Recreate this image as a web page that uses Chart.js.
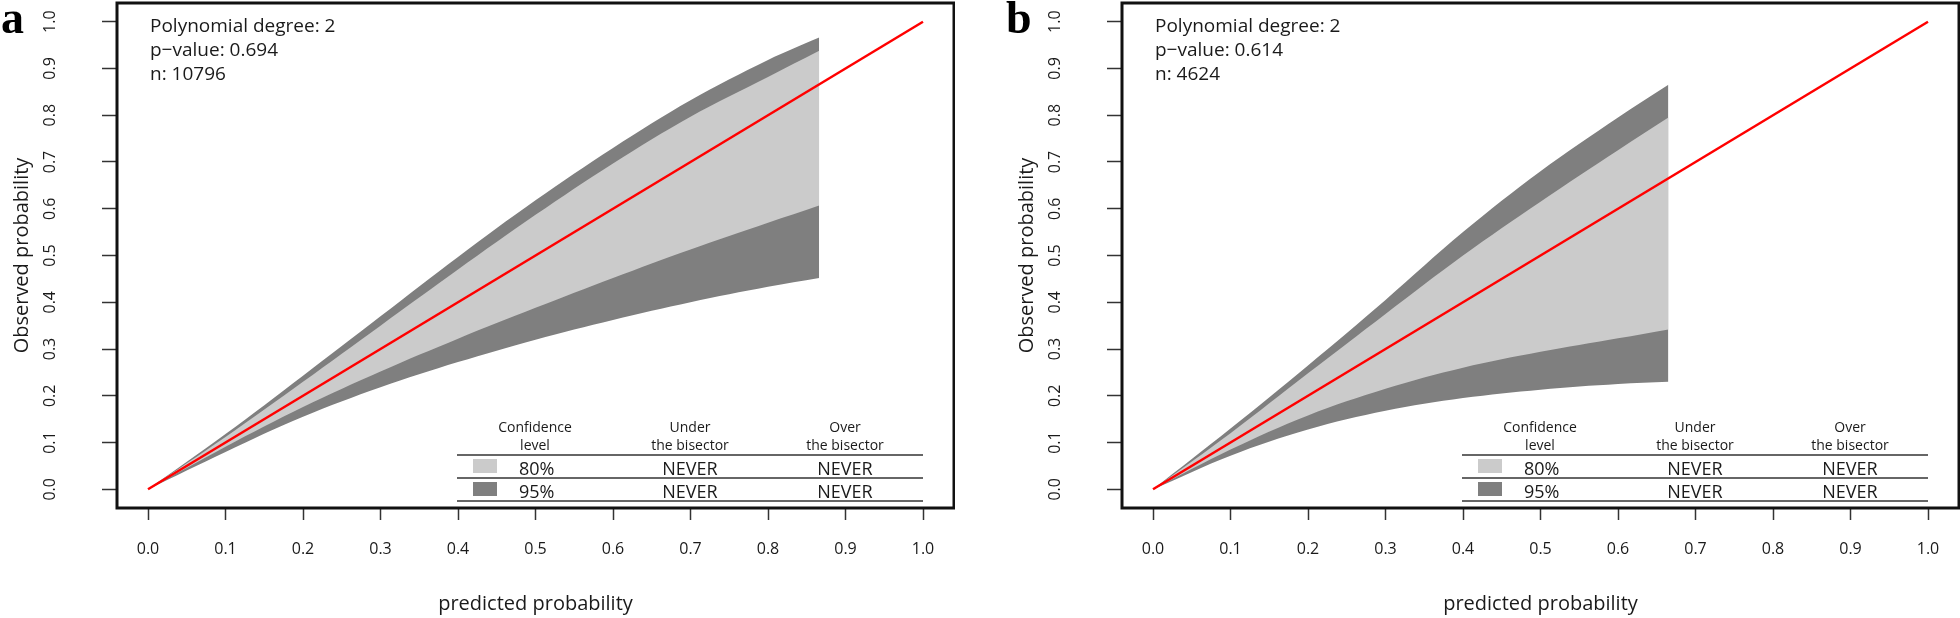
<!DOCTYPE html>
<html>
<head>
<meta charset="utf-8">
<script src="https://cdn.jsdelivr.net/npm/chart.js@4/dist/chart.umd.min.js"></script>
<style>
  body { margin: 0; background: #fff; }
  #wrap { position: relative; width: 1960px; height: 618px; }
  canvas { position: absolute; top: 0; }
</style>
</head>
<body>
<div id="wrap">
  <canvas id="chartA" width="955" height="618" style="left:0px"></canvas>
  <canvas id="chartB" width="955" height="618" style="left:1005px"></canvas>
</div>
<script>
// tick labels (both axes)
const tickValues = [0, 0.1, 0.2, 0.3, 0.4, 0.5, 0.6, 0.7, 0.8, 0.9, 1.0];

// panel a: confidence bands
const xA = [0, 0.1, 0.2, 0.3, 0.4, 0.5, 0.6, 0.7, 0.8, 0.866];
const upper95A = [0, 0.118, 0.243, 0.37, 0.497, 0.618, 0.73, 0.832, 0.918, 0.966];
const upper80A = [0, 0.112, 0.23, 0.35, 0.47, 0.587, 0.697, 0.797, 0.882, 0.938];
const lower80A = [0, 0.091, 0.176, 0.252, 0.322, 0.388, 0.452, 0.513, 0.57, 0.607];
const lower95A = [0, 0.08, 0.155, 0.218, 0.272, 0.32, 0.362, 0.4, 0.433, 0.452];

// panel b
const xB = [0, 0.1, 0.2, 0.3, 0.4, 0.5, 0.6, 0.665];
const upper95B = [0, 0.13, 0.265, 0.405, 0.55, 0.68, 0.795, 0.865];
const upper80B = [0, 0.12, 0.248, 0.375, 0.5, 0.615, 0.725, 0.795];
const lower80B = [0, 0.085, 0.158, 0.215, 0.26, 0.294, 0.323, 0.342];
const lower95B = [0, 0.072, 0.128, 0.168, 0.195, 0.213, 0.225, 0.23];

// bisector
const bisectorX = [0, 1];
const bisectorY = [0, 1];

const statsA = ["Polynomial degree: 2", "p\u2212value: 0.694", "n: 10796"];
const statsB = ["Polynomial degree: 2", "p\u2212value: 0.614", "n: 4624"];

const tableHead = [["Confidence", "level"], ["Under", "the bisector"], ["Over", "the bisector"]];
const tableRows = [["80%", "NEVER", "NEVER"], ["95%", "NEVER", "NEVER"]];

const LIGHT = "#cbcbcb";
const DARK = "#7f7f7f";
const TEXT = "#1a1a1a";
const FONT = "'Open Sans', sans-serif";

const pts = (xs, ys) => xs.map((x, i) => ({ x: x, y: ys[i] }));

// letter, stats text, table and box drawn on top of the chart
const extras = {
  id: "extras",
  afterDraw(chart, args, opts) {
    const { ctx, chartArea: a, scales } = chart;
    ctx.save();
    // box
    ctx.strokeStyle = "#111";
    ctx.lineWidth = 3;
    ctx.strokeRect(a.left, a.top, a.right - a.left, a.bottom - a.top);

    // y tick labels, rotated like R
    ctx.fillStyle = TEXT;
    ctx.font = "16px " + FONT;
    ctx.textAlign = "center";
    ctx.textBaseline = "middle";
    tickValues.forEach(v => {
      const y = scales.y.getPixelForValue(v);
      ctx.save();
      ctx.translate(50, y);
      ctx.rotate(-Math.PI / 2);
      ctx.fillText(v.toFixed(1), 0, 0);
      ctx.restore();
    });

    // panel letter
    ctx.fillStyle = "#000";
    ctx.font = "bold 46px 'Liberation Serif', serif";
    ctx.textAlign = "left";
    ctx.textBaseline = "alphabetic";
    ctx.fillText(opts.letter, 1, 33);

    // stats
    ctx.fillStyle = TEXT;
    ctx.font = "19px " + FONT;
    opts.stats.forEach((s, i) => ctx.fillText(s, a.left + 33, 32 + i * 24));

    // table
    const x0 = a.left + 340, x1 = a.left + 806;
    const cols = [a.left + 418, a.left + 573, a.left + 728];
    ctx.strokeStyle = "#333";
    ctx.lineWidth = 1.5;
    [455, 478, 501].forEach(y => {
      ctx.beginPath(); ctx.moveTo(x0, y); ctx.lineTo(x1, y); ctx.stroke();
    });
    ctx.font = "14px " + FONT;
    ctx.textAlign = "center";
    tableHead.forEach((h, i) => {
      ctx.fillText(h[0], cols[i], 432);
      ctx.fillText(h[1], cols[i], 450);
    });
    ctx.font = "18px " + FONT;
    tableRows.forEach((r, j) => {
      const base = 475 + j * 23;
      ctx.fillStyle = j === 0 ? LIGHT : DARK;
      ctx.fillRect(a.left + 356, base - 16, 24, 14);
      ctx.fillStyle = TEXT;
      ctx.textAlign = "left";
      ctx.fillText(r[0], a.left + 402, base);
      ctx.textAlign = "center";
      ctx.fillText(r[1], cols[1], base);
      ctx.fillText(r[2], cols[2], base);
    });
    ctx.restore();
  }
};

function makeChart(id, letter, stats, xs, u95, u80, l80, l95) {
  const band = (data, color, fill) => ({
    data: data,
    borderWidth: 0,
    borderColor: color,
    backgroundColor: color,
    pointRadius: 0,
    tension: 0.35,
    fill: fill
  });
  return new Chart(document.getElementById(id), {
    type: "line",
    data: {
      datasets: [
        {
          data: pts(bisectorX, bisectorY),
          borderColor: "#ff0000",
          borderWidth: 2.5,
          pointRadius: 0,
          fill: false
        },
        band(pts(xs, u80), LIGHT, "+1"),
        band(pts(xs, l80), LIGHT, false),
        band(pts(xs, u95), DARK, "+1"),
        band(pts(xs, l95), DARK, false)
      ]
    },
    options: {
      responsive: false,
      animation: false,
      layout: { padding: { top: 3, right: 1, left: 0, bottom: 0 } },
      plugins: {
        legend: { display: false },
        tooltip: { enabled: false },
        extras: { letter: letter, stats: stats }
      },
      scales: {
        x: {
          type: "linear",
          min: -0.04,
          max: 1.04,
          afterBuildTicks: s => { s.ticks = tickValues.map(v => ({ value: v })); },
          afterFit: s => { s.height = 110; },
          border: { display: false },
          grid: { drawOnChartArea: false, tickLength: 12, tickColor: "#333", tickWidth: 1.5 },
          ticks: {
            padding: 20,
            color: TEXT,
            font: { family: "Open Sans", size: 16 },
            callback: v => Number(v).toFixed(1)
          },
          title: {
            display: true,
            text: "predicted probability",
            color: TEXT,
            font: { family: "Open Sans", size: 20 },
            padding: { top: 0, bottom: 2 }
          }
        },
        y: {
          type: "linear",
          min: -0.04,
          max: 1.04,
          afterBuildTicks: s => { s.ticks = tickValues.map(v => ({ value: v })); },
          afterFit: s => { s.width = 117; },
          border: { display: false },
          grid: { drawOnChartArea: false, tickLength: 15, tickColor: "#333", tickWidth: 1.5 },
          ticks: { display: false },
          title: {
            display: true,
            text: "Observed probability",
            color: TEXT,
            font: { family: "Open Sans", size: 20 },
            padding: { top: 10, bottom: 0 }
          }
        }
      }
    },
    plugins: [extras]
  });
}

makeChart("chartA", "a", statsA, xA, upper95A, upper80A, lower80A, lower95A);
makeChart("chartB", "b", statsB, xB, upper95B, upper80B, lower80B, lower95B);
</script>
</body>
</html>
